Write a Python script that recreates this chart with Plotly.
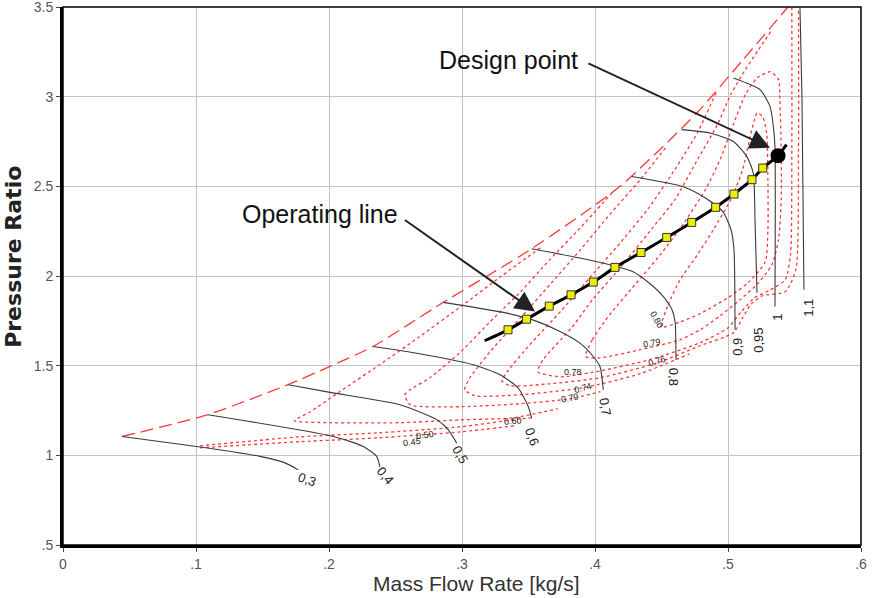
import plotly.graph_objects as go

# ---------------- data ----------------
# speed lines (relative corrected speed)
speed_labels = ["0,3", "0,4", "0,5", "0,6", "0,7", "0,8", "0,9", "0,95", "1", "1,1"]
sp03_x = [0.0444, 0.1005, 0.1481, 0.1669, 0.1769]
sp03_y = [1.105, 1.049, 0.994, 0.958, 0.919]
sp04_x = [0.109, 0.2033, 0.2258, 0.2358, 0.2383]
sp04_y = [1.226, 1.105, 1.049, 0.994, 0.934]
sp05_x = [0.1694, 0.2008, 0.2534, 0.2810, 0.2897, 0.2960]
sp05_y = [1.394, 1.351, 1.282, 1.199, 1.142, 1.068]
sp06_x = [0.2333, 0.2584, 0.3085, 0.3286, 0.3423, 0.3498, 0.3524]
sp06_y = [1.607, 1.579, 1.505, 1.449, 1.375, 1.272, 1.208]
sp07_x = [0.2859, 0.3336, 0.3562, 0.3737, 0.3887, 0.3987, 0.4038, 0.4062]
sp07_y = [1.853, 1.793, 1.747, 1.691, 1.626, 1.551, 1.494, 1.366]
sp08_x = [0.3524, 0.3887, 0.4138, 0.4286, 0.4414, 0.4514, 0.4579, 0.4602, 0.4609]
sp08_y = [2.152, 2.100, 2.057, 2.024, 1.957, 1.885, 1.812, 1.745, 1.533]
sp09_x = [0.4276, 0.4664, 0.4827, 0.4962, 0.5023, 0.5045, 0.5053]
sp09_y = [2.555, 2.498, 2.436, 2.358, 2.258, 2.146, 1.700]
sp095_x = [0.4652, 0.4865, 0.5040, 0.5141, 0.5190, 0.5203, 0.5218]
sp095_y = [2.816, 2.797, 2.750, 2.667, 2.574, 2.314, 1.907]
sp10_x = [0.5040, 0.5241, 0.5316, 0.5341, 0.5353, 0.5353]
sp10_y = [3.104, 3.039, 2.946, 2.834, 2.723, 1.830]
sp11_x = [0.5541, 0.5556, 0.5571]
sp11_y = [3.5, 3.0, 1.923]

# speed label positions and angles
speed_lab_x = [0.1835, 0.2421, 0.2985, 0.3526, 0.4075, 0.4586, 0.5075, 0.5233, 0.5376, 0.5609]
speed_lab_y = [0.864, 0.886, 1.003, 1.104, 1.271, 1.438, 1.605, 1.644, 1.767, 1.823]
speed_lab_ang = [20, 50, 60, 70, 80, 90, -90, -90, -90, -90]

# surge line
surge_x = [0.0444, 0.1090, 0.1692, 0.2008, 0.2331, 0.2857, 0.3526, 0.4188, 0.4767, 0.5113, 0.5451]
surge_y = [1.105, 1.227, 1.394, 1.496, 1.607, 1.852, 2.153, 2.500, 2.910, 3.206, 3.50]

# efficiency contours
eff_labels = ["0.45", "0.50", "0.60", "0.70", "0.74", "0.76", "0.78", "0.79", "0.80"]
e45_x = [0.103, 0.178, 0.238, 0.299, 0.340]
e45_y = [1.042, 1.076, 1.098, 1.131, 1.165]
e50_x = [0.103, 0.178, 0.238, 0.299, 0.344, 0.353]
e50_y = [1.053, 1.103, 1.126, 1.159, 1.204, 1.209]
e60_x = [0.359, 0.329, 0.299, 0.268, 0.238, 0.208, 0.186, 0.174, 0.201, 0.253, 0.299, 0.338, 0.372]
e60_y = [2.158, 1.996, 1.829, 1.661, 1.505, 1.355, 1.243, 1.193, 1.182, 1.182, 1.198, 1.209, 1.260]
e70_x = [0.413, 0.389, 0.366, 0.344, 0.321, 0.299, 0.276, 0.261, 0.257, 0.261, 0.299, 0.344, 0.381, 0.404]
e70_y = [2.465, 2.269, 2.091, 1.912, 1.744, 1.577, 1.433, 1.366, 1.338, 1.282, 1.271, 1.288, 1.315, 1.355]
e74_x = [0.453, 0.434, 0.411, 0.389, 0.366, 0.344, 0.321, 0.306, 0.302, 0.310, 0.344, 0.391, 0.434, 0.471]
e74_y = [2.715, 2.537, 2.342, 2.146, 1.951, 1.767, 1.577, 1.433, 1.366, 1.332, 1.338, 1.377, 1.455, 1.566]
e76_x = [0.491, 0.477, 0.460, 0.441, 0.419, 0.396, 0.374, 0.351, 0.334, 0.330, 0.336, 0.366, 0.404,
         0.447, 0.479, 0.504, 0.511, 0.517, 0.526, 0.543, 0.551, 0.553, 0.553]
e76_y = [3.022, 2.799, 2.593, 2.386, 2.185, 1.990, 1.801, 1.617, 1.466, 1.416, 1.388, 1.399, 1.433,
         1.516, 1.611, 1.683, 1.767, 1.840, 1.890, 1.912, 2.035, 2.704, 3.496]
e78_x = [0.532, 0.523, 0.513, 0.502, 0.492, 0.477, 0.460, 0.441, 0.419, 0.398, 0.383, 0.361, 0.357,
         0.374, 0.404, 0.441, 0.479, 0.500, 0.510, 0.520, 0.532, 0.543, 0.547, 0.548, 0.548]
e78_y = [3.362, 3.262, 3.150, 3.011, 2.844, 2.648, 2.425, 2.247, 2.046, 1.867, 1.717, 1.533, 1.466,
         1.438, 1.471, 1.533, 1.628, 1.711, 1.801, 1.879, 1.923, 1.979, 2.118, 2.704, 3.496]
e79_x = [0.393, 0.398, 0.411, 0.430, 0.449, 0.466, 0.483, 0.494, 0.504, 0.513, 0.522, 0.532, 0.538,
         0.539, 0.540, 0.540, 0.538, 0.533, 0.523, 0.509, 0.494, 0.479, 0.464, 0.434, 0.404, 0.393]
e79_y = [1.550, 1.645, 1.784, 1.951, 2.118, 2.286, 2.481, 2.648, 2.844, 3.011, 3.106, 3.139, 3.095,
         2.983, 2.704, 2.425, 2.202, 2.063, 1.962, 1.867, 1.778, 1.700, 1.645, 1.589, 1.544, 1.550]
e80_x = [0.450, 0.455, 0.464, 0.477, 0.489, 0.502, 0.511, 0.517, 0.522, 0.526, 0.529, 0.530, 0.530,
         0.528, 0.515, 0.500, 0.479, 0.464, 0.450]
e80_y = [1.716, 1.840, 1.979, 2.118, 2.258, 2.425, 2.593, 2.788, 2.910, 2.888, 2.799, 2.537, 2.258,
         2.079, 1.962, 1.879, 1.790, 1.744, 1.716]

eff_lab_x = [0.2624, 0.272, 0.338, 0.381, 0.391, 0.4466, 0.3835, 0.443, 0.4466]
eff_lab_y = [1.076, 1.115, 1.193, 1.321, 1.377, 1.527, 1.466, 1.628, 1.756]
eff_lab_ang = [-8, -8, -5, -12, -15, -15, 0, -10, 60]

# operating line
op_x = [0.317, 0.3346, 0.3485, 0.3656, 0.3820, 0.3987, 0.4150, 0.4346, 0.4539, 0.4727,
        0.4907, 0.5045, 0.5180, 0.5261, 0.5376, 0.544]
op_y = [1.639, 1.700, 1.759, 1.832, 1.895, 1.966, 2.048, 2.131, 2.215, 2.299,
        2.383, 2.457, 2.537, 2.602, 2.671, 2.732]
opm_x = [0.3346, 0.3485, 0.3656, 0.3820, 0.3987, 0.4150, 0.4346, 0.4539, 0.4727,
         0.4907, 0.5045, 0.5180, 0.5261]
opm_y = [1.700, 1.759, 1.832, 1.895, 1.966, 2.048, 2.131, 2.215, 2.299,
         2.383, 2.457, 2.537, 2.602]
design_x = [0.5376]
design_y = [2.671]

x_ticks = [0, 0.1, 0.2, 0.3, 0.4, 0.5, 0.6]
x_ticktext = ["0", ".1", ".2", ".3", ".4", ".5", ".6"]
y_ticks = [0.5, 1, 1.5, 2, 2.5, 3, 3.5]
y_ticktext = [".5", "1", "1.5", "2", "2.5", "3", "3.5"]
x_title = "Mass Flow Rate [kg/s]"
y_title = "Pressure Ratio"

# ---------------- figure ----------------
RED = "rgb(255,55,55)"
FONT = "Liberation Sans, Arial, sans-serif"
fig = go.Figure()

speed_sets = [(sp03_x, sp03_y), (sp04_x, sp04_y), (sp05_x, sp05_y), (sp06_x, sp06_y),
              (sp07_x, sp07_y), (sp08_x, sp08_y), (sp09_x, sp09_y), (sp095_x, sp095_y),
              (sp10_x, sp10_y), (sp11_x, sp11_y)]
eff_sets = [(e45_x, e45_y), (e50_x, e50_y), (e60_x, e60_y), (e70_x, e70_y), (e74_x, e74_y),
            (e76_x, e76_y), (e78_x, e78_y), (e79_x, e79_y), (e80_x, e80_y)]

for ex, ey in eff_sets:
    fig.add_trace(go.Scatter(x=ex, y=ey, mode="lines",
                             line=dict(color=RED, width=1.3, dash="3px,3px", shape="spline", smoothing=0.6),
                             showlegend=False, hoverinfo="skip"))

fig.add_trace(go.Scatter(x=surge_x, y=surge_y, mode="lines",
                         line=dict(color=RED, width=1.3, dash="13px,6px", shape="spline", smoothing=0.6),
                         showlegend=False, hoverinfo="skip"))

for sx, sy in speed_sets:
    fig.add_trace(go.Scatter(x=sx, y=sy, mode="lines",
                             line=dict(color="#3a3a3a", width=1.1, shape="spline", smoothing=0.6),
                             showlegend=False, hoverinfo="skip"))

fig.add_trace(go.Scatter(x=op_x, y=op_y, mode="lines",
                         line=dict(color="black", width=3, shape="spline", smoothing=0.5),
                         showlegend=False, hoverinfo="skip"))
fig.add_trace(go.Scatter(x=opm_x, y=opm_y, mode="markers",
                         marker=dict(symbol="square", size=8, color="#eeee00",
                                     line=dict(color="#333333", width=1)),
                         showlegend=False, hoverinfo="skip"))
fig.add_trace(go.Scatter(x=design_x, y=design_y, mode="markers",
                         marker=dict(symbol="circle", size=15, color="black"),
                         showlegend=False, hoverinfo="skip"))

annotations = []
for t, lx, ly, ang in zip(speed_labels, speed_lab_x, speed_lab_y, speed_lab_ang):
    annotations.append(dict(x=lx, y=ly, xref="x", yref="y", text=t, showarrow=False,
                            textangle=ang, font=dict(family=FONT, size=13, color="#222")))
for t, lx, ly, ang in zip(eff_labels, eff_lab_x, eff_lab_y, eff_lab_ang):
    annotations.append(dict(x=lx, y=ly, xref="x", yref="y", text=t, showarrow=False,
                            textangle=ang, font=dict(family=FONT, size=9, color="#222")))

annotations.append(dict(x=0.3346, y=3.206, xref="x", yref="y", text="Design point", showarrow=False,
                        font=dict(family=FONT, size=25, color="#111")))
annotations.append(dict(x=0.1932, y=2.347, xref="x", yref="y", text="Operating line", showarrow=False,
                        font=dict(family=FONT, size=25, color="#111")))
annotations.append(dict(x=0.5316, y=2.715, ax=0.3939, ay=3.189, xref="x", yref="y", axref="x", ayref="y",
                        text="", showarrow=True, arrowhead=2, arrowsize=2, arrowwidth=2,
                        arrowcolor="#222", standoff=0))
annotations.append(dict(x=0.3549, y=1.802, ax=0.2559, ay=2.318, xref="x", yref="y", axref="x", ayref="y",
                        text="", showarrow=True, arrowhead=2, arrowsize=2, arrowwidth=2,
                        arrowcolor="#222", standoff=0))
# axis titles
annotations.append(dict(x=0.518, y=-0.072, xref="paper", yref="paper", text=x_title, showarrow=False,
                        xanchor="center", yanchor="middle",
                        font=dict(family=FONT, size=21, color="#333")))
annotations.append(dict(x=-0.0614, y=0.5356, xref="paper", yref="paper", text="<b>" + y_title + "</b>",
                        showarrow=False, textangle=-90, xanchor="center", yanchor="middle",
                        font=dict(family="DejaVu Sans, sans-serif", size=22, color="#222")))

fig.update_layout(
    template="none",
    width=872, height=598,
    margin=dict(l=63, r=11, t=7, b=53, autoexpand=False),
    paper_bgcolor="white", plot_bgcolor="white",
    showlegend=False,
    annotations=annotations,
    font=dict(family=FONT, color="#444"),
    shapes=[dict(type="rect", xref="paper", yref="paper", x0=0, y0=0, x1=1, y1=1,
                 line=dict(color="black", width=1.5))],
)
fig.update_xaxes(range=[0, 0.6], tickvals=x_ticks, ticktext=x_ticktext, automargin=False,
                 showgrid=True, gridcolor="#c4c4c4", gridwidth=1, zeroline=False,
                 showline=True, linecolor="black", linewidth=3,
                 ticks="outside", ticklen=4, tickcolor="#444", ticklabeloverflow="allow",
                 tickfont=dict(family=FONT, size=14, color="#555"))
fig.update_yaxes(range=[0.5, 3.5], tickvals=y_ticks, ticktext=y_ticktext, automargin=False,
                 showgrid=True, gridcolor="#c4c4c4", gridwidth=1, zeroline=False,
                 showline=True, linecolor="black", linewidth=3,
                 ticks="outside", ticklen=4, tickcolor="#444", ticklabeloverflow="allow",
                 tickfont=dict(family=FONT, size=14, color="#555"))

fig.write_html("out.html", config={"displayModeBar": False},
               post_script="document.body.style.margin='0';document.body.style.overflow='hidden';")
